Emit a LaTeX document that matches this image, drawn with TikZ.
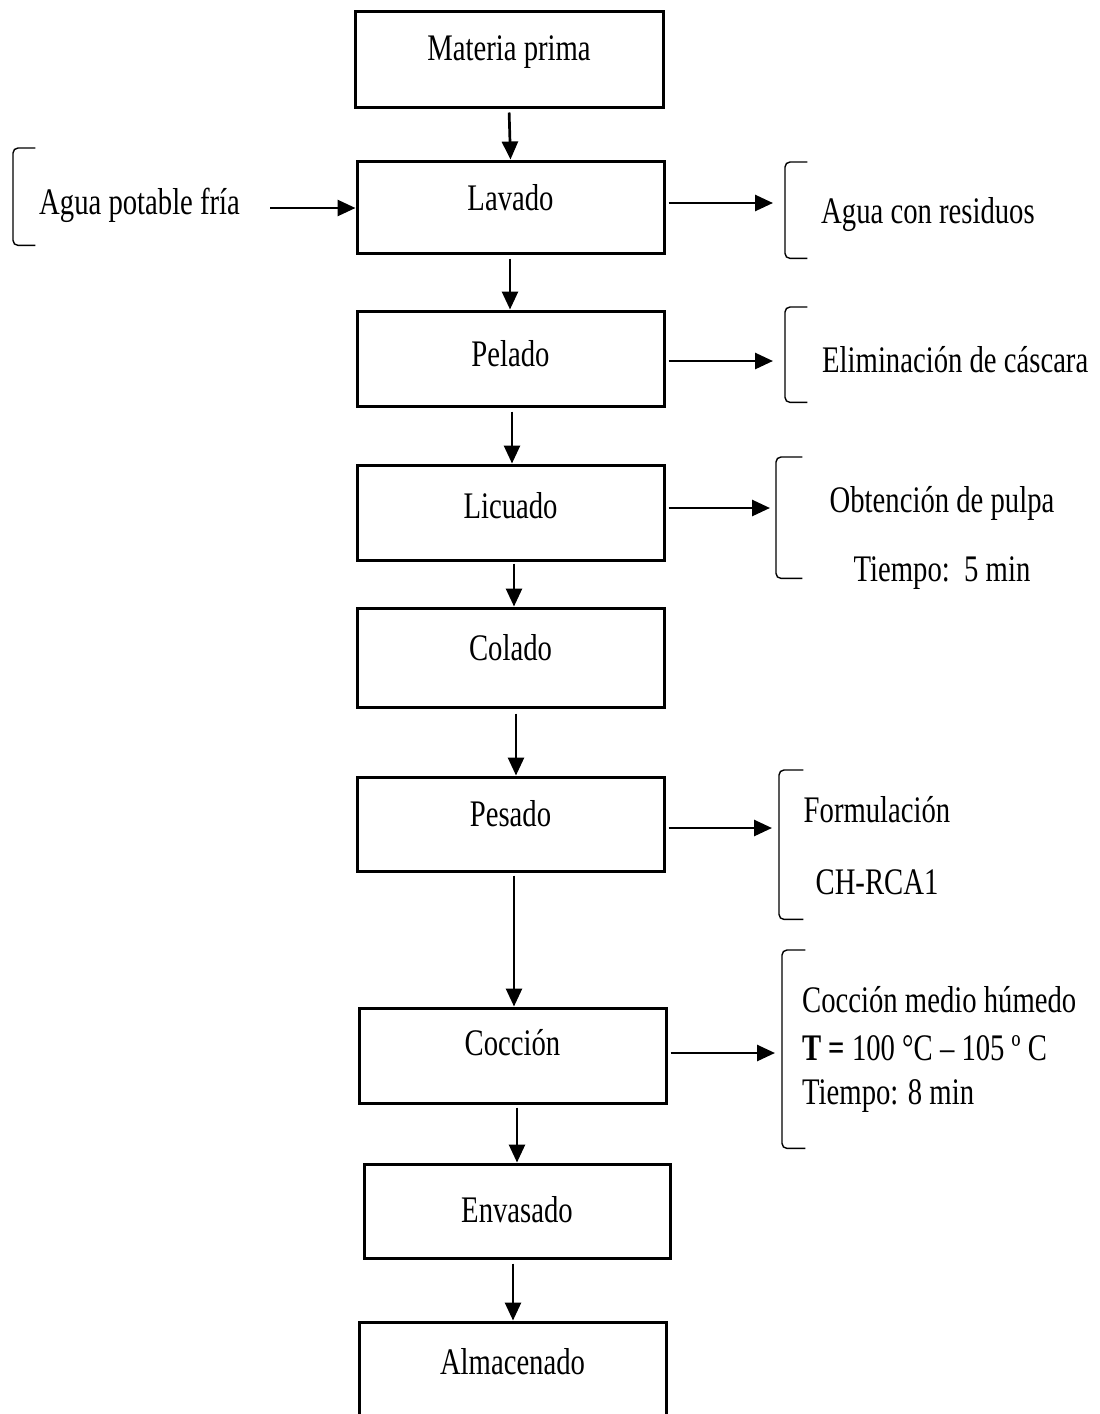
\documentclass[tikz,border=0pt]{standalone}
\usepackage{fontspec}
\setmainfont{Liberation Serif}[FakeStretch=0.765]
\usetikzlibrary{arrows.meta}
\begin{document}
\begin{tikzpicture}[x=1pt,y=-1pt,
  stepbox/.style={draw, line width=3pt, inner sep=0pt},
  lbl/.style={font=\fontsize{37.5}{44}\selectfont, inner sep=0pt},
  flow/.style={line width=2.7pt, -{Triangle[length=18pt,width=16pt]}},
  brk/.style={line width=1.4pt, rounded corners=5pt},
  span/.style={inner sep=0pt, minimum width=22pt, anchor=north west}]
\clip (0,0) rectangle (1100,1414);
\fill[white] (0,0) rectangle (1100,1414);

% process steps
\node[stepbox, minimum width=308pt, minimum height=96pt] (mp)  at (509,59)      {};
\node[stepbox, minimum width=307pt, minimum height=92pt] (lav) at (510.5,207)   {};
\node[stepbox, minimum width=307pt, minimum height=95pt] (pel) at (510.5,358.5) {};
\node[stepbox, minimum width=307pt, minimum height=95pt] (lic) at (510.5,512.5) {};
\node[stepbox, minimum width=307pt, minimum height=99pt] (col) at (510.5,657.5) {};
\node[stepbox, minimum width=307pt, minimum height=94pt] (pes) at (510.5,824)   {};
\node[stepbox, minimum width=307pt, minimum height=95pt] (coc) at (512.5,1055.5) {};
\node[stepbox, minimum width=306pt, minimum height=94pt] (env) at (517,1211)    {};
\node[stepbox, minimum width=307pt, minimum height=100pt] (alm) at (512.5,1372) {};

% step names
\node[lbl, anchor=base] (mpT)  at (509,60)     {Materia prima};
\node[lbl, anchor=base] (lavT) at (510.5,210)  {Lavado};
\node[lbl, anchor=base] (pelT) at (510.5,366)  {Pelado};
\node[lbl, anchor=base] (licT) at (510.5,518)  {Licuado};
\node[lbl, anchor=base] (colT) at (510.5,660)  {Colado};
\node[lbl, anchor=base] (pesT) at (510.5,826)  {Pesado};
\node[lbl, anchor=base] (cocT) at (512.5,1055) {Cocción};
\node[lbl, anchor=base] (envT) at (517,1222)   {Envasado};
\node[lbl, anchor=base] (almT) at (512.5,1374) {Almacenado};

% main flow
\draw[flow, shorten <=4pt] (mp.south) -- (lav.north);
\draw[flow, shorten <=4pt] ([xshift=-0.5pt]lav.south) -- ([xshift=-0.5pt]lav.south |- pel.north);
\draw[flow, shorten <=4pt] ([xshift=1.5pt]pel.south) -- ([xshift=1.5pt]pel.south |- lic.north);
\draw[flow, shorten <=2pt] ([xshift=3.5pt]lic.south) -- ([xshift=3.5pt]lic.south |- col.north);
\draw[flow, shorten <=5pt] ([xshift=5.5pt]col.south) -- ([xshift=5.5pt]col.south |- pes.north);
\draw[flow, shorten <=3pt] ([xshift=3.5pt]pes.south) -- ([xshift=3.5pt]pes.south |- coc.north);
\draw[flow, shorten <=3pt] ([xshift=4.5pt]coc.south) -- ([xshift=4.5pt]coc.south |- env.north);
\draw[flow, shorten <=4pt] ([xshift=-4pt]env.south) -- ([xshift=-4pt]env.south |- alm.north);

% side brackets
\node[span, minimum height=97pt]  (brIn) at (13,148)  {};
\node[span, minimum height=96pt]  (br1)  at (785,162) {};
\node[span, minimum height=95pt]  (br2)  at (785,307) {};
\node[span, minimum height=121pt, minimum width=26pt] (br3) at (776,457) {};
\node[span, minimum height=149pt, minimum width=24pt] (br4) at (779,770) {};
\node[span, minimum height=198pt, minimum width=23pt] (br5) at (782,950) {};
\foreach \b in {brIn,br1,br2,br3,br4,br5}
  \draw[brk] (\b.north east) -- (\b.north west) -- (\b.south west) -- (\b.south east);

% side texts
\node[lbl, anchor=base west] (inT) at (39,214)  {Agua potable fría};
\node[lbl, anchor=base west] (o1T) at (821,223) {Agua con residuos};
\node[lbl, anchor=base west] (o2T) at (822,372) {Eliminación de cáscara};
\node[lbl, anchor=base] (o3T)  at (942,512) {Obtención de pulpa};
\node[lbl, anchor=base] (o3bT) at (942,581) {Tiempo:\ \ 5 min};
\node[lbl, anchor=base] (o4T)  at (877,822) {Formulación};
\node[lbl, anchor=base] (o4bT) at (877,894) {CH-RCA1};
\node[lbl, anchor=base west] (o5T)  at (802,1012) {Cocción medio húmedo};
\node[lbl, anchor=base west] (o5bT) at (802,1060) {\textbf{T =} 100 °C – 105 º C};
\node[lbl, anchor=base west] (o5cT) at (802,1104) {Tiempo: 8 min};

% side flows
\coordinate (cin) at (270,208);
\draw[flow] (cin) -- (cin -| lav.west);
\draw[flow, shorten <=3pt, shorten >=12pt] ([yshift=4pt]lav.east) -- ([yshift=4pt]lav.east -| br1.west);
\draw[flow, shorten <=3pt, shorten >=12pt] ([yshift=-2.5pt]pel.east) -- ([yshift=-2.5pt]pel.east -| br2.west);
\draw[flow, shorten <=3pt, shorten >=6pt] ([yshift=4.5pt]lic.east) -- ([yshift=4.5pt]lic.east -| br3.west);
\draw[flow, shorten <=3pt, shorten >=7pt] ([yshift=-4pt]pes.east) -- ([yshift=-4pt]pes.east -| br4.west);
\draw[flow, shorten <=3pt, shorten >=7pt] ([yshift=2.5pt]coc.east) -- ([yshift=2.5pt]coc.east -| br5.west);
\end{tikzpicture}
\end{document}
